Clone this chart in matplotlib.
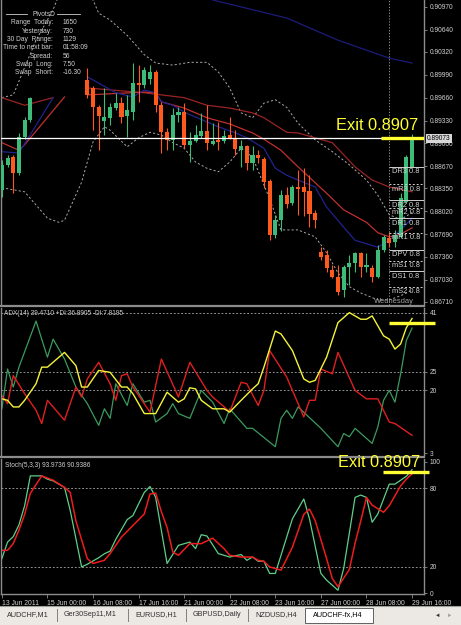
import matplotlib.pyplot as plt
from matplotlib.patches import Rectangle
from matplotlib.lines import Line2D
from matplotlib.transforms import blended_transform_factory

plt.rcParams['font.family'] = ['Liberation Sans', 'DejaVu Sans']

# ---- candles (H4 bars, AUDCHF) ----
bar_idx = [0, 1, 2, 3, 4, 5] + list(range(15, 73))
opens = [.8833, .8869, .8880, .8857, .8909, .8934,
         .8991, .8980, .8953, .8932, .8937, .8951, .8958, .8940, .8945, .8987,
         .8984, .8993, .9003, .8955, .8916, .8905, .8941, .8945, .8897, .8903,
         .8911, .8918, .8899, .8905, .8903, .8912, .8908, .8890, .8896, .8872,
         .8883, .8877, .8846, .8768, .8789, .8825, .8814, .8837, .8837, .8831,
         .8799, .8743, .8739, .8717, .8707, .8688, .8721, .8727, .8742, .8721,
         .8720, .8707, .8746, .8763, .8757, .8765, .8815, .8866]
highs = [.8876, .8883, .8883, .8915, .8938, .8967,
         .9009, .8983, .8955, .8980, .8958, .8973, .8967, .8970, .9016, .9013,
         .9010, .9013, .9006, .8960, .8922, .8951, .8953, .8958, .8916, .8927,
         .8944, .8955, .8929, .8931, .8919, .8938, .8919, .8905, .8898, .8896,
         .8890, .8880, .8848, .8797, .8833, .8837, .8840, .8862, .8864, .8854,
         .8804, .8750, .8746, .8724, .8724, .8724, .8739, .8743, .8743, .8742,
         .8724, .8753, .8768, .8772, .8775, .8828, .8883, .8913]
lows = [.8822, .8866, .8829, .8854, .8906, .8931,
        .8965, .8919, .8890, .8912, .8927, .8948, .8929, .8909, .8934, .8960,
        .8980, .8986, .8945, .8886, .8890, .8890, .8931, .8893, .8873, .8902,
        .8908, .8890, .8898, .8890, .8900, .8906, .8883, .8866, .8862, .8862,
        .8872, .8835, .8760, .8763, .8774, .8807, .8811, .8797, .8795, .8779,
        .8778, .8732, .8714, .8706, .8681, .8678, .8696, .8714, .8707, .8714,
        .8700, .8706, .8743, .8750, .8750, .8763, .8814, .8864]
closes = [.8869, .8879, .8857, .8909, .8934, .8965,
          .8970, .8953, .8940, .8938, .8953, .8958, .8938, .8948, .8987, .8984,
          .9006, .9003, .8955, .8916, .8905, .8941, .8945, .8897, .8903, .8912,
          .8918, .8900, .8903, .8902, .8911, .8908, .8892, .8896, .8872, .8883,
          .8879, .8844, .8768, .8789, .8825, .8812, .8837, .8834, .8830, .8798,
          .8789, .8736, .8720, .8707, .8685, .8721, .8727, .8742, .8721, .8724,
          .8707, .8746, .8765, .8756, .8768, .8821, .8880, .8907]

# ---- moving averages / bands (bar index, price) ----
navy_l_idx = [0, 3, 9]
navy_l = [.8888, .8886, .8966]
navy_r_idx = [15, 17, 20, 23, 25, 27, 28, 30, 32, 34, 36, 38, 41, 43, 46, 48, 50,
              52, 55, 57, 60, 62, 66, 68, 70, 72]
navy_r = [.8996, .8987, .8973, .8967, .8977, .8973, .8960, .8955, .8945, .8938,
          .8931, .8924, .8915, .8908, .8893, .8864, .8854, .8847, .8837, .8808,
          .8779, .8760, .8750, .8760, .8775, .8792]
reda_l_idx = [0, 4, 9]
reda_l = [.8966, .8955, .8966]
reda_r_idx = [15, 25, 28, 32, 36, 40, 44, 46, 50, 52, 58, 62, 65, 68, 72]
reda_r = [.8980, .8973, .8970, .8966, .8955, .8951, .8944, .8937, .8916, .8915,
          .8901, .8866, .8847, .8837, .8830]
redb_l_idx = [0, 3, 4, 11]
redb_l = [.8901, .8890, .8898, .8967]
redb_r_idx = [15, 25, 27, 28, 32, 36, 40, 44, 46, 49, 52, 57, 60, 64, 66, 68, 70, 72]
redb_r = [.8970, .8974, .8973, .8960, .8951, .8937, .8928, .8915, .8906, .8890,
          .8866, .8828, .8804, .8786, .8771, .8765, .8769, .8778]
up_l_idx = [0, 2, 6, 9, 10]
up_l = [.8966, .8970, .9049, .9093, .9114]
up_r_idx = [15, 16, 17, 19, 22, 25, 27, 30, 33, 36, 38, 40, 42, 44, 46, 48, 50,
            52, 55, 58, 61, 64, 66, 68, 70, 72]
up_r = [.9114, .9107, .9088, .9078, .9056, .9028, .9016, .9013, .9017, .9017,
        .9003, .8980, .8944, .8937, .8958, .8963, .8952, .8929, .8905, .8888,
        .8869, .8847, .8825, .8797, .8790, .8800]
lo_idx = [0, 4, 8, 10, 11, 14, 16, 18, 19, 22, 24, 25, 26, 28, 30, 32, 34, 36, 38,
          40, 42, 44, 47, 49, 52, 55, 57, 59, 61, 63, 66, 68, 70, 72]
lo = [.8836, .8830, .8792, .8786, .8789, .8844, .8902, .8924, .8919, .8895,
      .8908, .8912, .8916, .8912, .8901, .8893, .8873, .8864, .8859, .8873,
      .8893, .8880, .8820, .8775, .8775, .8765, .8742, .8713, .8693, .8684,
      .8674, .8674, .8680, .8688]
blue_top_idx = [37, 50, 59, 68, 72]
blue_top = [.9107, .9081, .9049, .9023, .9016]

# ---- pivot levels drawn for Wednesday (label text is cut by the price scale) ----
piv_names = ['DR3', 'mR3', 'DR2', 'mR2', 'DR1', 'mR1', 'DPV', 'mS1', 'DS1', 'mS2']
piv_levels = [.8866, .8841, .8818, .8807, .8792, .8771, .8746, .8730, .8715, .8693]

# ---- ADX(14) ----
adx_idx = [0, 1, 2, 3, 4, 6, 7, 8, 11, 13, 14, 15, 17, 19, 21, 22, 23, 25, 27, 29,
           31, 32, 33, 34, 35, 37, 39, 40, 42, 44, 45, 46, 48, 49, 51, 53, 54, 55,
           57, 59, 61, 63, 64, 65, 67, 68, 69, 70, 71, 72]
adx = [17.7, 17.3, 15.5, 15.5, 17.3, 21.8, 26.3, 26.3, 30.3, 26.7, 20.9, 20.9,
       25.4, 24.9, 20.9, 20.9, 19.1, 13.7, 13.7, 19.5, 16.8, 17.7, 20.7, 20.4,
       17.3, 15.0, 15.0, 14.1, 17.3, 20.4, 21.8, 26.3, 36.1, 35.3, 30.8, 23.1,
       22.2, 22.7, 29.0, 38.4, 41.1, 39.3, 39.3, 40.2, 34.8, 33.9, 31.2, 32.6,
       37.0, 39.5]
pdi_idx = [0, 1, 2, 3, 6, 8, 9, 11, 13, 15, 17, 18, 19, 20, 22, 23, 25, 26, 27, 29,
           30, 31, 33, 35, 37, 39, 40, 43, 44, 48, 49, 50, 51, 52, 56, 59, 60, 61,
           62, 65, 66, 67, 68, 69, 70, 71, 72]
pdi = [15.0, 25.8, 20.9, 26.3, 38.8, 29.0, 33.9, 28.5, 20.9, 16.4, 10.5, 15.0,
       12.4, 21.8, 15.9, 21.8, 16.8, 17.3, 11.4, 13.7, 16.4, 13.7, 12.4, 20.0,
       16.8, 11.0, 15.0, 9.7, 9.7, 4.7, 12.4, 14.6, 12.4, 15.5, 9.7, 4.7, 8.3,
       7.4, 9.7, 5.6, 10.1, 17.3, 20.0, 16.8, 24.5, 33.5, 36.9]
mdi_idx = [0, 1, 2, 4, 6, 7, 8, 11, 13, 14, 15, 17, 19, 20, 21, 22, 23, 26, 28, 31,
           33, 36, 37, 40, 42, 43, 45, 46, 47, 50, 53, 54, 55, 56, 58, 59, 62, 64,
           66, 68, 69, 72]
mdi = [18.6, 16.4, 24.0, 19.1, 14.6, 11.0, 17.3, 11.9, 20.9, 18.2, 23.1, 27.6,
       21.8, 17.3, 24.0, 24.5, 20.9, 14.1, 28.5, 18.2, 27.6, 20.0, 18.2, 14.2,
       22.2, 21.8, 15.9, 20.0, 30.8, 23.6, 12.8, 17.3, 17.3, 25.8, 24.5, 30.3,
       20.0, 17.7, 17.7, 11.4, 11.0, 7.8]

# ---- Stochastic(5,3,3) ----
stk_idx = [0, 1, 2, 3, 4, 5, 7, 8, 9, 11, 12, 14, 15, 17, 18, 19, 20, 22, 23, 25,
           26, 27, 29, 31, 33, 34, 35, 36, 38, 40, 42, 43, 44, 45, 46, 47, 48, 49,
           51, 53, 54, 56, 57, 59, 60, 62, 63, 64, 65, 66, 68, 69, 71, 72]
stk = [26.3, 38.9, 43, 52, 66.6, 89.3, 89.3, 86.8, 85.5, 80.5, 63, 20, 22, 27,
       30, 32, 41, 56, 59.1, 76.7, 81.2, 72.9, 22.6, 36.4, 38.9, 33.9, 44.5, 43.5,
       30.1, 27.5, 29.4, 25.0, 27.5, 24.3, 24.3, 15, 15, 28.8, 56.6, 71.7, 56.6,
       15, 9.9, 2.2, 18.8, 72.9, 74.7, 72.9, 54, 60.3, 83, 83, 89, 94.0]
std_idx = [0, 1, 2, 3, 4, 5, 7, 9, 11, 12, 13, 15, 16, 18, 19, 21, 23, 25, 26, 27,
           28, 29, 30, 31, 33, 35, 37, 39, 40, 42, 44, 45, 46, 47, 49, 51, 53, 54,
           55, 57, 58, 59, 61, 62, 63, 64, 65, 67, 68, 70, 71, 72]
std = [32.6, 32.6, 37.7, 48, 60, 76, 89.3, 86, 80.5, 76.7, 55, 26.3, 22.6, 25,
       30.1, 42.7, 51.5, 60.3, 75.5, 76.2, 62, 50, 31.3, 28.8, 37.7, 37.7, 41.9,
       33.9, 28.8, 27.5, 27.5, 25, 24.3, 20, 17.5, 35, 60, 64, 55.3, 26.3, 11.2,
       4.9, 18, 38, 55, 72.9, 67, 61.6, 66.6, 81.7, 86.8, 90.9]

price_ticks = [0.90970, 0.90640, 0.90320, 0.89990, 0.89660, 0.89330, 0.89000,
               0.88670, 0.88350, 0.88020, 0.87690, 0.87360, 0.87030, 0.86710]
bid = 0.89073
date_idx = [0, 8, 16, 24, 32, 40, 48, 56, 64, 72]
date_labels = ['13 Jun 2011', '15 Jun 00:00', '16 Jun 08:00', '17 Jun 16:00',
               '21 Jun 00:00', '22 Jun 08:00', '23 Jun 16:00', '27 Jun 00:00',
               '28 Jun 08:00', '29 Jun 16:00']
info_keys = ['Range  Today:', 'Yesterday:', '30 Day  Range:', 'Time to next bar:',
             'Spread:', 'Swap  Long:', 'Swap  Short:']
info_vals = ['1650', '730', '1129', '01:58:09', '56', '7.50', '-16.30']
tabs = ['AUDCHF,M1', 'Ger30Sep11,M1', 'EURUSD,H1', 'GBPUSD,Daily', 'NZDUSD,H4']
active_tab = 'AUDCHF-fx,H4'

W, H = 461, 625
BULL, BEAR = '#3dbb78', '#ff5a1e'
GRID = '#a8a8a8'
TXT = '#d0d0d0'
YEL = '#ffff33'


def rect(x0, y0, x1, y1):
    return [x0 / W, 1 - y1 / H, (x1 - x0) / W, (y1 - y0) / H]


fig = plt.figure(figsize=(W / 100, H / 100), dpi=100, facecolor='black')
ax = fig.add_axes(rect(1, 0, 424, 305))
ax_adx = fig.add_axes(rect(1, 308, 424, 455))
ax_st = fig.add_axes(rect(1, 459, 424, 594))

XL = (-0.15, 74.1)
for a in (ax, ax_adx, ax_st):
    a.set_facecolor('black')
    a.set_xlim(*XL)
    for s in a.spines.values():
        s.set_color('#8c8c8c')
        s.set_linewidth(1)
    a.spines['top'].set_visible(False)
    a.spines['bottom'].set_visible(False)
    a.yaxis.tick_right()
    a.tick_params(axis='y', colors='#8c8c8c', labelcolor=TXT, labelsize=4.8,
                  length=2, width=0.6, pad=2)
    a.tick_params(axis='x', bottom=False, labelbottom=False)

# ---- main price panel ----
ax.set_ylim(0.86666, 0.9107)
ax.set_yticks(price_ticks)
ax.set_yticklabels([f'{p:.5f}' for p in price_ticks])

dash = (0, (2.2, 2.2))
ax.plot(up_l_idx, up_l, color=GRID, lw=0.7, ls=dash)
ax.plot(up_r_idx, up_r, color=GRID, lw=0.7, ls=dash)
ax.plot(lo_idx, lo, color=GRID, lw=0.7, ls=dash)
ax.plot(reda_l_idx, reda_l, color='#9a2424', lw=0.9)
ax.plot(reda_r_idx, reda_r, color='#9a2424', lw=0.9)
ax.plot(redb_l_idx, redb_l, color='#c03030', lw=0.9)
ax.plot(redb_r_idx, redb_r, color='#c03030', lw=0.9)
ax.plot(navy_l_idx, navy_l, color='#22228e', lw=0.9)
ax.plot(navy_r_idx, navy_r, color='#22228e', lw=0.9)
ax.plot(blue_top_idx, blue_top, color='#1c1c7a', lw=0.9)

for i, o, h, l, c in zip(bar_idx, opens, highs, lows, closes):
    col = BULL if c >= o else BEAR
    ax.vlines(i, l, h, color=col, lw=0.8, zorder=3)
    ax.bar(i, max(abs(c - o), 0.00012), bottom=min(o, c), width=0.72,
           color=col, zorder=4)

ax.axhline(bid, color='white', lw=0.9, zorder=5)

# Wednesday separator and pivot levels
ax.axvline(68, color=GRID, lw=0.6, ls=(0, (1.5, 2)), zorder=2)
for name, lev in zip(piv_names, piv_levels):
    solid = name.startswith('D')
    ax.hlines(lev, 68, XL[1], color='#d0d0d0', lw=0.7,
              ls='-' if solid else (0, (2, 2)), zorder=6)
    ax.text(68.4, lev - 0.0002, f'{name} 0.8', color='#d0d0d0',
            fontsize=5.4, va='top', ha='left', zorder=6, clip_on=True)
ax.text(72.4, 0.86672, 'Wednesday', color='#a0a0a0', fontsize=5.4,
        ha='right', va='bottom', zorder=6)

ax.hlines(bid, 66.5, XL[1], color=YEL, lw=2.4, zorder=7)
ax.text(58.6, 0.8919, 'Exit 0.8907', color=YEL, fontsize=11.8,
        va='baseline', ha='left', zorder=8)
tr = blended_transform_factory(ax.transAxes, ax.transData)
ax.text(1.007, bid, f'{bid:.5f}', transform=tr, color='black', fontsize=4.8,
        va='center', ha='left', zorder=9,
        bbox=dict(boxstyle='square,pad=0.15', fc='#d8d8d8', ec='none'))

# info block
fig.text(32 / W, 1 - 14 / H, 'PivotsD', color=TXT, fontsize=4.8, va='center')
fig.add_artist(Line2D([6 / W, 27 / W], [1 - 14 / H] * 2, color=TXT, lw=0.6))
fig.add_artist(Line2D([57 / W, 80 / W], [1 - 14 / H] * 2, color=TXT, lw=0.6))
for k, (key, val) in enumerate(zip(info_keys, info_vals)):
    yy = 1 - (23 + 8.3 * k) / H
    fig.text(53 / W, yy, key, color=TXT, fontsize=4.8, ha='right', va='center')
    fig.text(62.5 / W, yy, val, color=TXT, fontsize=4.8, ha='left', va='center')

# ---- ADX panel ----
ax_adx.set_ylim(2.46, 42.35)
ax_adx.set_yticks([41, 25, 20, 3])
for lev in (41, 25, 20):
    ax_adx.axhline(lev, color=GRID, lw=0.6, ls=dash)
ax_adx.plot(pdi_idx, pdi, color='#3c9a5f', lw=0.9)
ax_adx.plot(mdi_idx, mdi, color='#e02020', lw=1.0)
ax_adx.plot(adx_idx, adx, color='#f4f43a', lw=1.0)
ax_adx.hlines(38.3, 67.9, 76.1, color=YEL, lw=2.4, clip_on=False, zorder=7)
ax_adx.text(0.4, 40.9, 'ADX(14) 39.4710 +DI:36.8905 -DI:7.8195', color=TXT,
            fontsize=4.7, va='center', ha='left')

# ---- Stochastic panel ----
ax_st.set_ylim(-0.65, 102.15)
ax_st.set_yticks([100, 80, 20, 0])
for lev in (80, 20):
    ax_st.axhline(lev, color=GRID, lw=0.6, ls=dash)
ax_st.plot(stk_idx, stk, color='#5fcf8a', lw=0.9)
ax_st.plot(std_idx, std, color='#ee1c1c', lw=1.1)
ax_st.hlines(92.3, 66.9, 74.9, color=YEL, lw=2.4, clip_on=False, zorder=7)
ax_st.text(0.6, 97, 'Stoch(5,3,3) 93.9736 90.9386', color=TXT, fontsize=4.7,
           va='center', ha='left')
fig.text(338 / W, 1 - 467 / H, 'Exit 0.8907', color=YEL, fontsize=11.8,
         va='baseline', ha='left', zorder=10)

ax_st.tick_params(axis='x', bottom=True, labelbottom=True, colors='#8c8c8c',
                  labelcolor=TXT, labelsize=4.85, length=3, width=0.6, pad=1.5)
ax_st.spines['bottom'].set_visible(True)
ax_st.set_xticks(date_idx)
ax_st.set_xticklabels(date_labels, ha='left')

# panel separators
for yy in (306.5, 457):
    fig.add_artist(Line2D([0, 424 / W], [1 - yy / H] * 2, color='#8c8c8c', lw=1.6))

# ---- tab bar ----
fig.add_artist(Rectangle((0, 0), 1, 19 / H, transform=fig.transFigure,
                         fc='#ece9e4', ec='none'))
fig.add_artist(Line2D([0, 1], [19 / H] * 2, color='#a0a0a0', lw=0.8))
tab_x = [7, 64, 135, 193, 255]
for t, x in zip(tabs, tab_x):
    fig.text(x / W, 1 - 615 / H, t, color='#303030', fontsize=5.2, va='center')
for x in (57, 128, 186, 248):
    fig.add_artist(Line2D([x / W] * 2, [1 - 609 / H, 1 - 621 / H], color='#808080', lw=0.7))
fig.add_artist(Rectangle((305 / W, 1 - 623 / H), 68 / W, 15 / H,
                         transform=fig.transFigure, fc='white', ec='#606060', lw=0.7))
fig.text(313 / W, 1 - 615 / H, active_tab, color='black', fontsize=5.2, va='center')
fig.text(435 / W, 1 - 615 / H, '\u25c4', color='#303030', fontsize=4, va='center')
fig.text(447 / W, 1 - 615 / H, '\u25ba', color='#a0a0a0', fontsize=4, va='center')

fig.savefig('out.png', dpi=100, facecolor='black')
